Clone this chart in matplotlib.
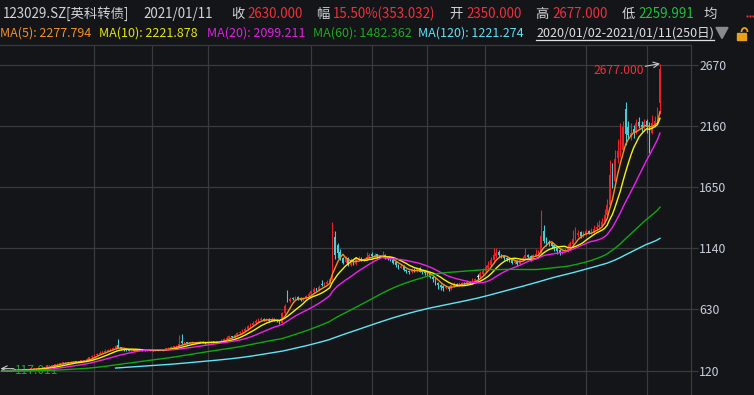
import matplotlib
matplotlib.use('Agg')
import matplotlib.pyplot as plt
import numpy as np
import pandas as pd
from matplotlib.patches import Polygon, Rectangle, Arc
from matplotlib.lines import Line2D

plt.rcParams['font.family'] = ['Noto Sans CJK SC', 'DejaVu Sans']

# ---------------- data ----------------
pre_close = [112, 113, 111, 114, 115, 113, 112, 114, 116, 115,
             113, 112, 111, 113, 114, 115, 114, 116, 117, 115,
             114, 113, 112, 114, 115, 116, 115, 114, 113, 114,
             116, 117, 118, 116, 115, 114, 115, 116, 117, 118,
             117, 116, 115, 116, 117, 118, 119, 118, 117, 116,
             117, 118, 119, 120, 119, 118, 117, 118, 119, 120,
             121, 120, 119, 118, 117, 118, 119, 120, 119, 118,
             117, 118, 119, 118, 119, 118]

close = [119, 120, 121, 123, 125, 124, 126, 128, 130, 129, 131, 133, 136, 140, 138, 142,
         148, 155, 160, 165, 172, 178, 182,
         185, 190, 188, 193, 196, 192, 198, 200, 205,
         215, 230, 240, 250, 262, 270, 275, 285, 290,
         300, 308, 322, 312, 300, 295,
         290, 288, 292, 286, 290, 294, 288, 285, 290, 292, 289, 291, 295, 293, 298,
         302, 308, 315, 320, 328, 345,
         348,
         352, 348, 355, 358, 352, 356, 360, 354, 350, 356, 360, 358, 355, 362,
         372, 385, 395, 405, 400, 415, 430, 440, 455, 470,
         490, 505, 520, 535, 545, 550, 540, 545, 538, 550, 540, 530, 520,
         600, 660, 700, 720, 715, 730, 720, 710, 725, 740, 760,
         780, 800, 790, 815, 830, 845, 860, 880,
         1200, 1080,
         1100, 1050, 1020, 1060, 1000, 1040, 1010, 1050,
         1060, 1040, 1050, 1070, 1080, 1075, 1085, 1070, 1065, 1080, 1060, 1050,
         1040, 1020, 1000, 980, 990, 960, 950, 940, 960, 950, 970, 945, 940, 930,
         920, 900, 880, 850, 830, 820, 810, 815, 800, 830,
         840, 835, 845, 850, 840, 860, 850, 870, 880, 900, 930, 950, 980,
         1000, 1040, 1080, 1100, 1080, 1070, 1060, 1050,
         1040, 1020, 1030, 1010, 1040, 1060, 1080, 1070, 1050, 1080, 1090, 1110,
         1240, 1200, 1190,
         1180, 1160, 1140, 1120, 1100, 1110, 1120, 1140,
         1180, 1220, 1250, 1270, 1240, 1260, 1280, 1270,
         1270, 1300, 1320, 1330, 1360, 1420, 1500,
         1750, 1700, 1880, 1950, 1960, 2150, 2090, 2080, 2100, 2100,
         2180, 2160, 2150, 2190, 2150, 2100, 2180, 2202, 2276.968, 2630]

open_ = [118, 119, 121, 121, 123, 125, 124, 126, 128, 130, 129, 131, 133, 136, 140, 138,
         143, 147, 156, 159, 166, 171, 179,
         181, 184, 191, 188, 192, 197, 191, 199, 199,
         205, 213, 232, 238, 249, 263, 272, 274, 287,
         288, 301, 306, 330, 314, 302,
         294, 291, 287, 293, 285, 289, 295, 289, 284, 290, 293, 288, 290, 296, 292,
         297, 301, 307, 316, 319, 327,
         370,
         347, 353, 347, 354, 359, 351, 355, 361, 355, 349, 355, 361, 359, 354,
         361, 371, 384, 394, 407, 398, 414, 431, 438, 452,
         468, 488, 503, 518, 534, 546, 552, 538, 547, 536, 552, 542, 532,
         520, 598, 730, 702, 722, 714, 732, 722, 708, 724, 738,
         758, 778, 805, 788, 842, 832, 845, 858,
         880, 1230,
         1170, 1105, 1055, 1025, 1058, 1002, 1042, 1008,
         1048, 1062, 1038, 1052, 1068, 1090, 1073, 1088, 1072, 1062, 1082, 1063,
         1052, 1042, 1022, 1002, 978, 992, 962, 952, 938, 962, 948, 972, 947, 942,
         932, 922, 902, 882, 852, 832, 822, 808, 817, 798,
         828, 842, 834, 846, 852, 838, 862, 848, 868, 900, 898, 928, 948,
         978, 998, 1042, 1078, 1110, 1082, 1072, 1062,
         1052, 1042, 1018, 1032, 1008, 1038, 1058, 1082, 1072, 1048, 1078, 1088,
         1105, 1280, 1210,
         1195, 1182, 1165, 1142, 1125, 1098, 1108, 1118,
         1138, 1178, 1218, 1248, 1272, 1238, 1258, 1282,
         1262, 1272, 1298, 1318, 1328, 1358, 1418,
         1500, 1800, 1700, 1890, 1940, 1960, 2300, 2150, 2070, 2130,
         2110, 2190, 2170, 2140, 2200, 2170, 2100, 2170, 2210, 2350]

high = [121, 121, 122, 124, 126, 126, 127, 129, 131, 131, 132, 134, 137, 142, 141, 144,
        150, 158, 163, 168, 176, 182, 188,
        190, 194, 193, 197, 200, 199, 202, 206, 210,
        222, 238, 248, 258, 270, 280, 284, 298, 302,
        312, 318, 335, 384, 318, 306,
        298, 296, 296, 296, 294, 300, 298, 293, 295, 298, 296, 296, 302, 300, 304,
        308, 314, 322, 326, 336, 415,
        426,
        360, 358, 362, 366, 362, 362, 368, 366, 358, 362, 368, 366, 364, 370,
        380, 395, 405, 418, 412, 428, 445, 452, 468, 485,
        498, 515, 530, 548, 560, 565, 560, 556, 555, 565, 560, 548, 538,
        610, 675, 792, 735, 735, 745, 740, 730, 735, 752, 775,
        795, 815, 812, 830, 876, 855, 872, 895,
        1361, 1280,
        1185, 1130, 1065, 1075, 1070, 1055, 1050, 1065,
        1075, 1068, 1060, 1110, 1100, 1105, 1100, 1095, 1080, 1115, 1090, 1070,
        1060, 1050, 1030, 1008, 1010, 998, 970, 958, 975, 972, 985, 980, 955, 948,
        945, 930, 910, 890, 860, 840, 830, 828, 822, 840,
        855, 850, 855, 862, 858, 872, 868, 890, 895, 925, 950, 975, 1000,
        1030, 1065, 1140, 1145, 1125, 1095, 1085, 1070,
        1060, 1050, 1045, 1040, 1050, 1075, 1140, 1095, 1080, 1095, 1130, 1125,
        1457, 1330, 1230,
        1205, 1190, 1175, 1150, 1130, 1125, 1140, 1175,
        1200, 1290, 1320, 1290, 1280, 1285, 1300, 1295,
        1310, 1330, 1360, 1375, 1390, 1470, 1550,
        1875, 1850, 1960, 2050, 2180, 2200, 2361, 2200, 2180, 2170,
        2220, 2230, 2200, 2220, 2215, 2190, 2250, 2240, 2320, 2677]

low = [117.011, 118, 120, 120, 122, 123, 123, 125, 127, 128, 128, 130, 132, 135, 137, 137,
       141, 145, 154, 157, 164, 169, 176,
       178, 182, 185, 186, 190, 189, 189, 195, 197,
       202, 210, 228, 235, 245, 258, 266, 270, 280,
       285, 296, 303, 305, 296, 288,
       284, 283, 284, 282, 281, 286, 284, 280, 281, 286, 285, 284, 287, 289, 288,
       294, 298, 304, 312, 316, 323,
       340,
       342, 344, 344, 350, 348, 347, 352, 350, 344, 346, 352, 352, 350, 350,
       358, 366, 380, 390, 394, 394, 410, 425, 432, 448,
       462, 482, 498, 512, 528, 538, 532, 530, 528, 530, 534, 522, 512,
       515, 590, 690, 695, 705, 708, 712, 700, 702, 718, 732,
       752, 770, 780, 782, 822, 826, 840, 852,
       875, 1050,
       1060, 1040, 1005, 1015, 995, 995, 1000, 1002,
       1040, 1030, 1030, 1045, 1060, 1065, 1065, 1062, 1055, 1058, 1050, 1040,
       1030, 1010, 985, 965, 972, 950, 930, 925, 935, 940, 945, 940, 925, 918,
       905, 890, 860, 835, 800, 790, 785, 800, 785, 795,
       820, 825, 828, 838, 830, 835, 842, 845, 862, 872, 890, 920, 940,
       970, 990, 1030, 1060, 1070, 1055, 1045, 1035,
       1025, 1005, 1010, 995, 1000, 1030, 1050, 1055, 1035, 1040, 1075, 1080,
       1095, 1180, 1160,
       1160, 1140, 1120, 1095, 1080, 1090, 1105, 1110,
       1130, 1170, 1205, 1235, 1225, 1230, 1250, 1255,
       1255, 1262, 1290, 1305, 1320, 1350, 1410,
       1490, 1640, 1690, 1850, 1900, 1940, 2000, 2050, 2040, 2060,
       2090, 2140, 2110, 2120, 2100, 1935, 2090, 2150, 2190, 2259.991]

ma_windows = [5, 10, 20, 60, 120]
y_ticks = [120, 630, 1140, 1650, 2160, 2670]
month_lines = [35, 57, 78, 117, 140, 161, 183, 221, 244]   # first trading day of some months

header1 = [("123029.SZ[英科转债]", "light"), ("2021/01/11", "light"),
           ("收", "light"), ("2630.000", "red"), ("幅", "light"), ("15.50%(353.032)", "red"),
           ("开", "light"), ("2350.000", "red"), ("高", "light"), ("2677.000", "red"),
           ("低", "light"), ("2259.991", "green"), ("均", "light")]
ma_labels = ["MA(5): 2277.794", "MA(10): 2221.878", "MA(20): 2099.211",
             "MA(60): 1482.362", "MA(120): 1221.274"]
range_label = "2020/01/02-2021/01/11(250日)"
high_label = "2677.000"
low_label = "117.011"

# ---------------- style ----------------
W, H = 754, 395
BG = '#131519'
GRID = '#3b3b3b'
RED = '#e8212a'
CYAN = '#47cdd6'
TXT = {'light': '#d4d4d4', 'red': '#f0303a', 'green': '#22c03a'}
MA_COL = ['#f5901e', '#f5f500', '#f020f0', '#10a810', '#5ee6f5']

fig = plt.figure(figsize=(W / 100, H / 100), dpi=100, facecolor=BG)
ax = fig.add_axes([0, 0, 691 / W, 350 / H], facecolor=BG)

n = len(close)
idx = np.arange(n)
o = np.array(open_, float); c = np.array(close, float)
hi = np.array(high, float); lo = np.array(low, float)

ax.set_xlim(-0.757, 260.73)
ax.set_ylim(-82.4, 2832.4)

for y in y_ticks:
    ax.axhline(y, color=GRID, lw=0.9, zorder=0)
for m in month_lines:
    ax.axvline(m - 0.1, color=GRID, lw=0.9, zorder=0)

cols = [RED if cc > oo else (CYAN if cc < oo else '#e0e0e0') for oo, cc in zip(o, c)]
ax.vlines(idx, lo, hi, colors=cols, lw=0.8, zorder=3)
body_h = np.maximum(np.abs(c - o), 8)
ax.bar(idx, body_h, bottom=np.minimum(o, c), width=0.62, color=cols, lw=0, zorder=3)

full = pd.Series(list(pre_close) + list(close), dtype=float)
for w, col in zip(ma_windows, MA_COL):
    ma = full.rolling(w).mean().values[len(pre_close):]
    ax.plot(idx, ma, color=col, lw=1.0, zorder=4)

ax.set_xticks([])
ax.set_yticks(y_ticks)
ax.set_yticklabels([str(v) for v in y_ticks])
ax.yaxis.tick_right()
ax.tick_params(axis='y', direction='out', length=5, color=GRID, labelcolor='#c8cfdb',
               labelsize=8.8, pad=1, width=0.9)
for s in ['left', 'bottom']:
    ax.spines[s].set_visible(False)
for s in ['right', 'top']:
    ax.spines[s].set_color(GRID)
    ax.spines[s].set_linewidth(0.9)

# annotations for highest / lowest
ih = int(np.argmax(hi)); il = int(np.argmin(lo))
ax.annotate("", xy=(ih, hi[ih]), xytext=(ih - 5.6, hi[ih] - 22),
            arrowprops=dict(arrowstyle='->', color='#c8c8c8', lw=0.8, shrinkA=0, shrinkB=0),
            zorder=6)
ax.text(ih - 6.2, hi[ih] - 60, high_label, color=TXT['red'], fontsize=8.7,
        ha='right', va='center', zorder=6)
ax.annotate("", xy=(il - 0.6, lo[il] + 20), xytext=(il + 4.5, lo[il] + 20),
            arrowprops=dict(arrowstyle='->', color='#c8c8c8', lw=0.8, shrinkA=0, shrinkB=0),
            zorder=1)
ax.text(il + 4.9, lo[il] + 5, low_label, color='#2a9a3a', fontsize=8.7,
        ha='left', va='center', zorder=1)

# ---------------- header ----------------
def ftxt(x, y, s, color, size=9.6, **kw):
    return fig.text(x / W, 1 - y / H, s, color=color, fontsize=size, ha='left',
                    va='baseline', **kw)

h1x = [3, 143, 231, 247, 316, 333, 449, 466, 535, 552, 622, 638, 703]
for (s, k), x in zip(header1, h1x):
    ftxt(x, 17.8, s, TXT[k])
# red "more" dots at the right edge
fig.add_artist(Line2D([746.5 / W, 749.5 / W, 752.5 / W], [1 - 16 / H] * 3, ls='none',
                      marker='s', ms=1.4, color=TXT['red'], mew=0))

max_x = [0, 99, 207, 313, 418]
for s, x, col in zip(ma_labels, max_x, ['#f5901e', '#e6e600', '#e020e0', '#20a820', '#5ee0f5']):
    ftxt(x, 36.3, s, col, size=9.0)
ftxt(536, 36.3, range_label, '#e0e0e0', size=9.0)
fig.add_artist(Line2D([536 / W, 714 / W], [1 - 39.5 / H, 1 - 39.5 / H], color='#e0e0e0', lw=0.9))

# dropdown triangle
tri = Polygon([[716 / W, 1 - 27.5 / H], [728 / W, 1 - 27.5 / H], [722 / W, 1 - 38.5 / H]],
              closed=True, color='#8a8a8a', transform=fig.transFigure)
fig.add_artist(tri)
# lock icon
fig.add_artist(Rectangle((737 / W, 1 - 40 / H), 9 / W, 7.5 / H, color='#e8a21a',
                         transform=fig.transFigure))
fig.add_artist(Arc((744.5 / W, 1 - 32 / H), 6 / W, 8 / H, theta1=0, theta2=180,
                   color='#e8a21a', lw=1.3, transform=fig.transFigure))

fig.savefig('out.png', dpi=100, facecolor=BG)
